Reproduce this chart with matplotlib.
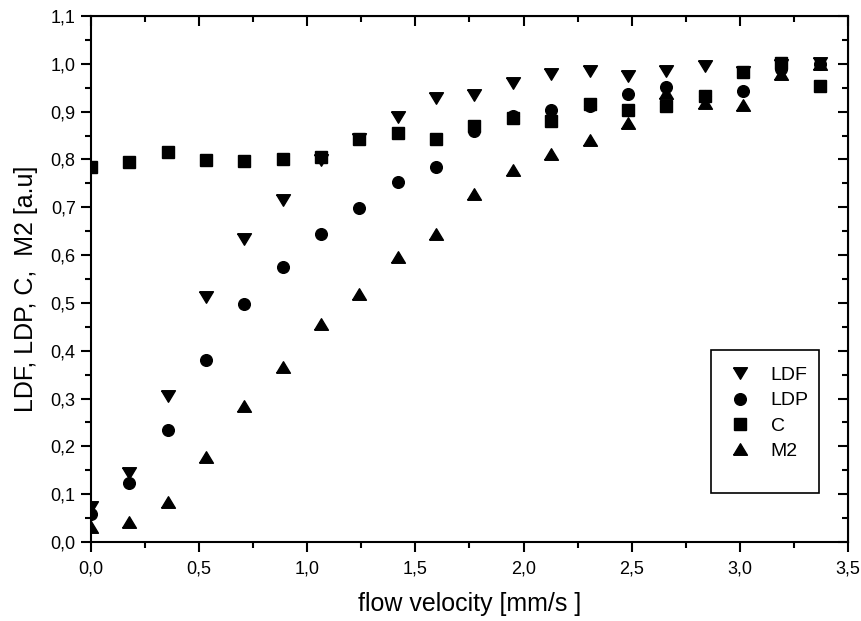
import matplotlib
matplotlib.use('Agg')
import matplotlib.pyplot as plt
from matplotlib.ticker import MultipleLocator, FuncFormatter
from matplotlib.patches import Rectangle

REG = 'Liberation Sans'

flow = [0.0, 0.177, 0.355, 0.532, 0.709, 0.887, 1.064, 1.241, 1.418, 1.596,
        1.773, 1.950, 2.128, 2.305, 2.482, 2.660, 2.837, 3.014, 3.191, 3.369]
ldf = [0.073, 0.145, 0.305, 0.513, 0.633, 0.715, 0.798, 0.843, 0.888, 0.928,
       0.934, 0.960, 0.979, 0.985, 0.975, 0.986, 0.996, 0.982, 0.998, 1.001]
ldp = [0.058, 0.123, 0.234, 0.380, 0.498, 0.575, 0.644, 0.699, 0.752, 0.784,
       0.859, 0.890, 0.904, 0.912, 0.937, 0.951, 0.933, 0.944, 0.990, 1.000]
c = [0.785, 0.794, 0.815, 0.799, 0.796, 0.801, 0.805, 0.843, 0.855, 0.843,
     0.869, 0.886, 0.881, 0.917, 0.904, 0.911, 0.932, 0.982, 1.001, 0.953]
m2 = [0.032, 0.042, 0.083, 0.177, 0.285, 0.367, 0.455, 0.519, 0.597, 0.644,
      0.728, 0.777, 0.812, 0.841, 0.877, 0.939, 0.918, 0.914, 0.979, 1.000]
series_labels = ['LDF', 'LDP', 'C', 'M2']

down_tri = [(-1, 0.83), (1, 0.83), (0, -0.83), (-1, 0.83)]
up_tri = [(-1, -0.83), (1, -0.83), (0, 0.83), (-1, -0.83)]

fig = plt.figure(figsize=(8.62, 6.21), dpi=100)
ax = fig.add_axes([91/862, 79/621, 757/862, 526/621])

ax.plot(flow, ldf, linestyle='none', marker=down_tri, markersize=10, color='black', label=series_labels[0])
ax.plot(flow, ldp, linestyle='none', marker='o', markersize=8.4, color='black', label=series_labels[1])
ax.plot(flow, c, linestyle='none', marker='s', markersize=8, color='black', label=series_labels[2])
ax.plot(flow, m2, linestyle='none', marker=up_tri, markersize=10, color='black', label=series_labels[3])

ax.set_xlim(0, 3.5)
ax.set_ylim(0, 1.1)
ax.xaxis.set_major_locator(MultipleLocator(0.5))
ax.xaxis.set_minor_locator(MultipleLocator(0.25))
ax.yaxis.set_major_locator(MultipleLocator(0.1))
ax.yaxis.set_minor_locator(MultipleLocator(0.05))
fmt = FuncFormatter(lambda v, p: f"{v:.1f}".replace('.', ','))
ax.xaxis.set_major_formatter(fmt)
ax.yaxis.set_major_formatter(fmt)

for s in ax.spines.values():
    s.set_linewidth(1.5)

ax.tick_params(which='both', bottom=True, left=True, top=False, right=False, direction='out', width=1.5)
ax.tick_params(which='major', length=7)
ax.tick_params(which='minor', length=4.5)
ax.tick_params(axis='x', which='major', pad=6)
ax.tick_params(axis='y', which='major', pad=4)
for lab in ax.get_xticklabels() + ax.get_yticklabels():
    lab.set_fontfamily(REG)
    lab.set_fontsize(13)

# inward ticks on top and right
ax2 = ax.secondary_xaxis('top')
ax2.xaxis.set_major_locator(MultipleLocator(0.5))
ax2.xaxis.set_minor_locator(MultipleLocator(0.25))
ax2.tick_params(which='both', direction='in', width=1.5, labeltop=False)
ax2.tick_params(which='major', length=7)
ax2.tick_params(which='minor', length=4.5)
ax3 = ax.secondary_yaxis('right')
ax3.yaxis.set_major_locator(MultipleLocator(0.1))
ax3.yaxis.set_minor_locator(MultipleLocator(0.05))
ax3.tick_params(which='both', direction='in', width=1.5, labelright=False)
ax3.tick_params(which='major', length=7)
ax3.tick_params(which='minor', length=4.5)

ax.set_xlabel('flow velocity [mm/s ]', fontfamily=REG, fontsize=18)
ax.xaxis.set_label_coords(0.5, -0.096)
ax.set_ylabel('LDF, LDP, C,  M2 [a.u]', fontfamily=REG, fontsize=18)
ax.yaxis.set_label_coords(-0.070, 0.482)

leg = ax.legend(loc='upper left', bbox_to_anchor=(0.844, 0.334), frameon=False,
                prop={'family': REG, 'size': 14}, handlelength=1.0, handletextpad=1.1,
                labelspacing=0.4, borderpad=0, borderaxespad=0)
ax.add_patch(Rectangle((0.819, 0.093), 0.143, 0.272, transform=ax.transAxes,
                       fill=False, edgecolor='black', linewidth=1.2, zorder=5))

fig.savefig('out.png', dpi=100)
